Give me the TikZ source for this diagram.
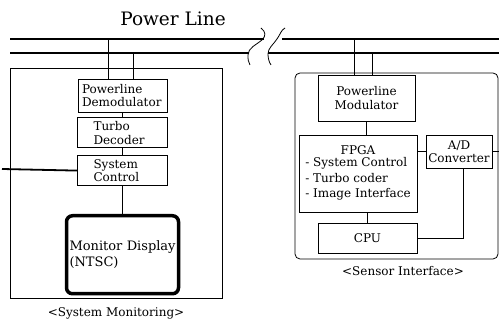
\documentclass[tikz,border=0pt]{standalone}
\usepackage{fontspec}
\setmainfont{DejaVu Serif}
\usetikzlibrary{positioning}

\begin{document}
\begin{tikzpicture}[x=1pt,y=1pt,every node/.style={font=\fontsize{12}{13.5}\selectfont,inner sep=0pt},box/.style={draw,line width=0.8pt,minimum height=30pt},lbox/.style={box,align=left},cbox/.style={box,align=center},frame/.style={draw,line width=0.8pt},wire/.style={line width=0.8pt},power/.style={line width=2.4pt}]
\useasboundingbox (0,0) rectangle (499,324);
% power line with break
\node (title) at (173,305) {\fontsize{18.5}{20}\selectfont Power Line};
\coordinate (tl) at (10,285); \coordinate (bl) at (10,271);
\coordinate (tr) at (499,285); \coordinate (br) at (499,271);
\draw[power] (tl) -- (264,285); \draw[power] (bl) -- (249,271);
\draw[power] (282,285) -- (tr); \draw[power] (268,271) -- (br);
\draw[wire] (261,296) .. controls (266,292) and (266,288) .. (262,284) .. controls (256,279) and (248,276) .. (248,269) .. controls (248,265) and (248,262) .. (250,259);
\draw[wire] (285,296) .. controls (281,294) and (280,289) .. (277,285) .. controls (273,279) and (268,276) .. (268,270) .. controls (268,266) and (269,262) .. (271,259);
% outer frames
\node[frame,minimum width=212pt,minimum height=230pt] (sysmon) at (116,141) {};
\node[below=9pt of sysmon] (sysmonlab) {<System Monitoring>};
\node[frame,rounded corners=5pt,minimum width=203pt,minimum height=186pt] (sensor) at (396.5,158) {};
\node (sensorlab) at (403,53) {<Sensor Interface>};
% receiver side
\node[lbox,inner xsep=4pt,text width=81pt,minimum height=33pt] (dem) at (122.5,228.5) {Powerline\\Demodulator};
\node[lbox,inner xsep=16pt,text width=58pt,below=5pt of dem] (turbo) {Turbo\\Decoder};
\node[lbox,inner xsep=16pt,text width=58pt,below=7pt of turbo] (sysc) {System\\Control};
\node[lbox,line width=3.5pt,rounded corners=6pt,inner xsep=3pt,text width=106pt,minimum height=78pt,below=28pt of sysc,font=\fontsize{13}{16}\selectfont] (mon) {\mbox{Monitor Display}\\(NTSC)};
% sensor side
\node[cbox,minimum width=97pt,minimum height=46pt] (mod) at (366.5,226) {Powerline\\Modulator};
\node[box,minimum width=118pt,minimum height=77pt,align=center] (fpga) at (358,150.5) {FPGA\\[2pt]\begin{tabular}{@{}l@{}}- System Control\\[2pt]- Turbo coder\\[2pt]- Image Interface\end{tabular}};
\node[cbox,minimum width=66pt,minimum height=33pt] (adc) at (459,172.5) {A/D\\Converter};
\node[cbox,minimum width=99pt] (cpu) at (367.5,86) {CPU};
% connections
\draw[wire] ([xshift=-14.5pt]dem.north) -- ([xshift=-14.5pt]dem.north |- tl);
\draw[wire] ([xshift=10.5pt]dem.north) -- ([xshift=10.5pt]dem.north |- bl);
\draw[wire] (dem.south) -- (turbo.north);
\draw[wire] (turbo.south) -- (sysc.north);
\draw[wire] (sysc.south) -- (mon.north);
\coordinate (ext) at (2,155);
\draw[line width=1.8pt] (ext) -- (sysc.west);
\draw[wire] ([xshift=-12.5pt]mod.north) -- ([xshift=-12.5pt]mod.north |- tr);
\draw[wire] ([xshift=5.5pt]mod.north) -- ([xshift=5.5pt]mod.north |- br);
\draw[wire] (mod.south) -- (mod.south |- fpga.north);
\draw[wire] (cpu.north) -- (cpu.north |- fpga.south);
\draw[wire] (adc.west) -- (adc.west -| fpga.east);
\coordinate (rim) at (499,172.5);
\draw[wire] (adc.east) -- (rim);
\draw[wire] ([xshift=4pt]adc.south) |- (cpu.east);
\end{tikzpicture}
\end{document}
